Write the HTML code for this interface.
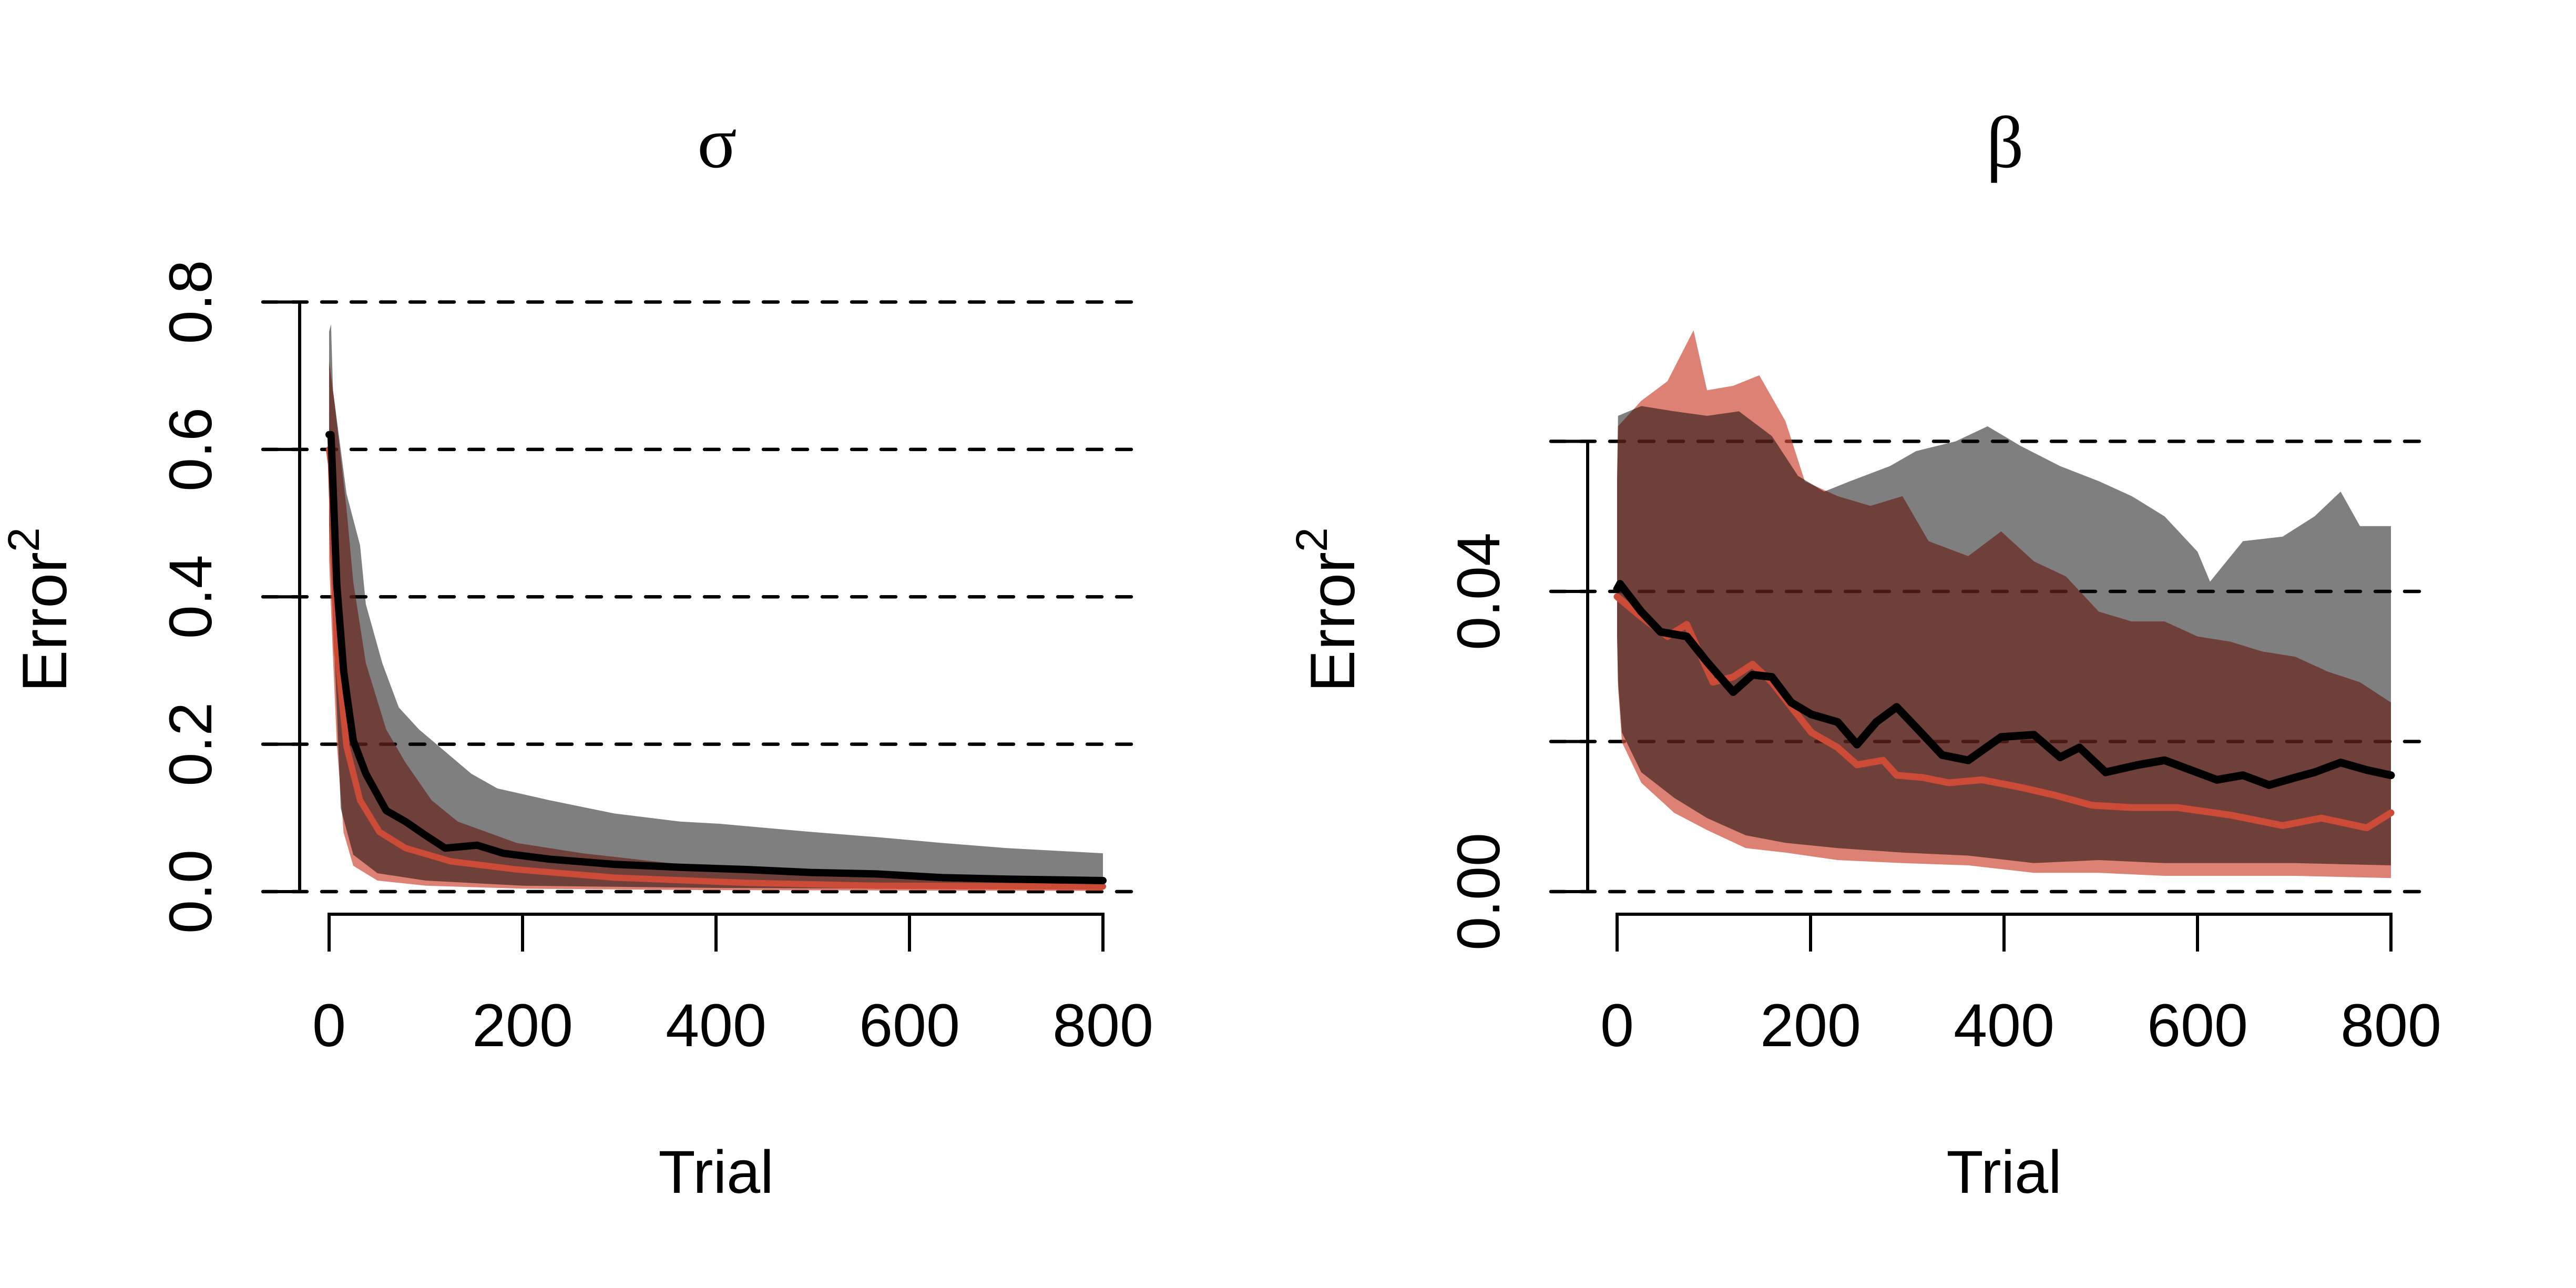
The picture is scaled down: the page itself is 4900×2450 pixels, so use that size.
<!DOCTYPE html>
<html><head><meta charset="utf-8"><title>Error² over trials</title>
<style>html,body{margin:0;padding:0;background:#fff}svg{display:block}</style></head>
<body>
<svg id="chart" width="4900" height="2450" viewBox="0 0 4900 2450" xmlns="http://www.w3.org/2000/svg" font-family="'Liberation Sans', sans-serif">
<rect width="4900" height="2450" fill="#fff"/>
</svg>
<script>
// ---- Panel 1 (sigma) data ----
const sigBlackT = [0,2,8,15,18,25,38,59,79,99,120,153,180,228,295,363,430,498,566,634,701,800];
const sigBlackV = [0.62,0.62,0.416,0.30,0.27,0.205,0.16,0.11,0.095,0.077,0.059,0.063,0.052,0.044,0.037,0.033,0.030,0.026,0.024,0.019,0.017,0.015];
const sigRedT = [0,2,8,18,32,52,79,126,194,295,430,566,800];
const sigRedV = [0.60,0.58,0.33,0.197,0.124,0.081,0.059,0.041,0.030,0.019,0.012,0.008,0.007];
const sigGrayUpT = [0,2,4,18,32,38,55,72,93,120,147,174,228,295,363,404,498,566,634,701,800];
const sigGrayUpV = [0.76,0.77,0.68,0.54,0.47,0.39,0.31,0.25,0.22,0.19,0.16,0.14,0.124,0.106,0.095,0.092,0.081,0.074,0.066,0.059,0.052];
const sigSalUpT = [0,5,18,25,38,59,79,106,133,194,262,363,498,634,800];
const sigSalUpV = [0.72,0.67,0.52,0.42,0.31,0.22,0.175,0.124,0.095,0.066,0.052,0.037,0.026,0.019,0.015];
const sigSalLoT = [0,3,8,15,25,50,100,200,400,800];
const sigSalLoV = [0.45,0.35,0.20,0.08,0.035,0.015,0.008,0.004,0.002,0.001];
const sigGrayLoT = [0,3,8,12,25,50,100,200,400,800];
const sigGrayLoV = [0.50,0.40,0.25,0.113,0.05,0.025,0.015,0.008,0.005,0.003];
const sigTicks = [0,0.2,0.4,0.6,0.8];
const sigTickLabels = ["0.0","0.2","0.4","0.6","0.8"];

// ---- Panel 2 (beta) data ----
const betBlackT = [0,3,25,45,72,93,120,140,160,180,201,228,248,268,289,309,336,363,397,431,458,478,505,539,566,593,620,647,674,701,721,748,775,800];
const betBlackV = [0.0403,0.041,0.0373,0.0346,0.034,0.0306,0.0266,0.0289,0.0286,0.0252,0.0236,0.0226,0.0196,0.0226,0.0246,0.0219,0.0182,0.0175,0.0206,0.0209,0.0179,0.0192,0.0159,0.0169,0.0175,0.0162,0.0149,0.0155,0.0142,0.0152,0.0159,0.0172,0.0162,0.0155];
const betRedT = [0,25,52,72,99,120,140,160,180,201,228,248,275,289,316,343,377,417,451,491,532,579,634,688,728,775,800];
const betRedV = [0.0393,0.0366,0.034,0.0356,0.0279,0.0286,0.0303,0.0279,0.0246,0.0212,0.0192,0.0169,0.0175,0.0155,0.0152,0.0145,0.0149,0.0139,0.0129,0.0115,0.0112,0.0112,0.0102,0.0088,0.0098,0.0085,0.0105];
const betGrayUpT = [0,1,25,59,93,126,160,187,214,241,282,309,350,383,417,458,498,532,566,600,613,647,688,721,748,768,800];
const betGrayUpV = [0.055,0.0634,0.0647,0.064,0.0634,0.064,0.0607,0.0554,0.0533,0.0547,0.0567,0.0587,0.06,0.062,0.0594,0.0567,0.0547,0.0527,0.05,0.0453,0.0413,0.0467,0.0473,0.05,0.0533,0.0487,0.0487];
const betSalUpT = [0,1,25,52,79,93,120,147,174,194,228,262,295,322,363,397,431,464,498,532,566,600,634,667,701,735,768,800];
const betSalUpV = [0.055,0.062,0.0654,0.068,0.0748,0.0668,0.0674,0.0688,0.0627,0.0547,0.0527,0.0514,0.0527,0.0467,0.0447,0.048,0.044,0.042,0.0373,0.036,0.036,0.034,0.0333,0.032,0.0313,0.0293,0.0279,0.0252];
const betSalLoT = [0,1,5,25,59,93,133,174,228,295,363,431,498,566,634,701,800];
const betSalLoV = [0.034,0.0273,0.0199,0.0145,0.0105,0.0082,0.0058,0.0052,0.0042,0.0038,0.0035,0.0025,0.0025,0.0021,0.0021,0.0021,0.0018];
const betGrayLoT = [0,1,5,25,59,93,133,174,228,295,363,431,498,566,634,701,800];
const betGrayLoV = [0.034,0.028,0.0212,0.0159,0.0125,0.0098,0.0075,0.0065,0.0058,0.0052,0.0048,0.0038,0.0042,0.0038,0.0038,0.0038,0.0035];
const betTicks = [0,0.02,0.04,0.06];
const betTickLabels = ["0.00","","0.04",""];

const xTicks = [0,200,400,600,800];
const xTickLabels = ["0","200","400","600","800"];

const NS = "http://www.w3.org/2000/svg";
const svg = document.getElementById("chart");
function mk(tag, attrs, parent) {
  const e = document.createElementNS(NS, tag);
  for (const k in attrs) e.setAttribute(k, attrs[k]);
  (parent || svg).appendChild(e);
  return e;
}

function panel(off, name, title, yMax, yTopPix, yTicks, yLabels, bands, lines) {
  const g = mk("g", {});
  
  
  const X = t => off + 626 + t * (2098 - 626) / 800;
  const Y = v => 1696 - v * (1696 - yTopPix) / yMax;
  yTicks.forEach(v => {
    const l = mk("line", {x1: off + 500, x2: off + 2162, y1: Y(v), y2: Y(v), stroke: "#000", "stroke-width": 6.5, "stroke-dasharray": "28 28", "stroke-linecap": "round"}, g);
    
    
  });
  bands.forEach(b => {
    let d = "";
    b.upT.forEach((t, i) => d += (i ? "L" : "M") + X(t).toFixed(1) + "," + Y(b.upV[i]).toFixed(1));
    for (let i = b.loT.length - 1; i >= 0; i--) d += "L" + X(b.loT[i]).toFixed(1) + "," + Y(b.loV[i]).toFixed(1);
    d += "Z";
    const p = mk("path", {d: d, fill: b.fill}, g);
    
    
  });
  lines.forEach(ln => {
    let d = "";
    ln.t.forEach((t, i) => d += (i ? "L" : "M") + X(t).toFixed(1) + "," + Y(ln.v[i]).toFixed(1));
    const p = mk("path", {d: d, fill: "none", stroke: ln.color, "stroke-width": ln.w, "stroke-linejoin": "round", "stroke-linecap": "round"}, g);
    
    
  });
  const ya = mk("line", {x1: off + 570, x2: off + 570, y1: Y(yTicks[0]), y2: Y(yTicks[yTicks.length - 1]), stroke: "#000", "stroke-width": 6}, g);
  
  
  yTicks.forEach((v, i) => {
    const tk = mk("line", {x1: off + 500, x2: off + 570, y1: Y(v), y2: Y(v), stroke: "#000", "stroke-width": 6}, g);
    
    
    if (yLabels[i]) {
      const tx = mk("text", {x: 0, y: 0, "font-size": 115, "text-anchor": "middle", transform: "translate(" + (off + 402) + "," + Y(v) + ") rotate(-90)"}, g);
      tx.textContent = yLabels[i];
      
      
    }
  });
  const xa = mk("line", {x1: X(0), x2: X(800), y1: 1739, y2: 1739, stroke: "#000", "stroke-width": 6}, g);
  
  
  xTicks.forEach((t, i) => {
    const tk = mk("line", {x1: X(t), x2: X(t), y1: 1736, y2: 1810, stroke: "#000", "stroke-width": 6}, g);
    
    
    const tx = mk("text", {x: X(t), y: 1990, "font-size": 115, "text-anchor": "middle"}, g);
    tx.textContent = xTickLabels[i];
    
    
  });
  const xt = mk("text", {x: off + 1362, y: 2269, "font-size": 115, "text-anchor": "middle"}, g);
  xt.textContent = "Trial";
  
  
  const yt = mk("text", {x: 0, y: 0, "font-size": 120, "text-anchor": "middle", transform: "translate(" + (off + 126) + ",1160) rotate(-90)"}, g);
  yt.innerHTML = 'Error<tspan font-size="84" dy="-52">2</tspan>';
  
  
  const tt = mk("text", {x: off + 1364, y: 318, "font-size": 140, "text-anchor": "middle", "font-family": "'Liberation Serif', 'DejaVu Serif', serif"}, g);
  tt.textContent = title;
  
  
}

panel(0, "sigma", "σ", 0.8, 574.5, sigTicks, sigTickLabels,
  [{name: "red-band", fill: "rgba(205,75,55,0.7)", upT: sigSalUpT, upV: sigSalUpV, loT: sigSalLoT, loV: sigSalLoV},
   {name: "black-band", fill: "rgba(0,0,0,0.5)", upT: sigGrayUpT, upV: sigGrayUpV, loT: sigGrayLoT, loV: sigGrayLoV}],
  [{name: "red-line", color: "#CC4B37", w: 12, t: sigRedT, v: sigRedV},
   {name: "black-line", color: "#000", w: 14, t: sigBlackT, v: sigBlackV}]);

panel(2450, "beta", "β", 0.06, 839.5, betTicks, betTickLabels,
  [{name: "red-band", fill: "rgba(205,75,55,0.7)", upT: betSalUpT, upV: betSalUpV, loT: betSalLoT, loV: betSalLoV},
   {name: "black-band", fill: "rgba(0,0,0,0.5)", upT: betGrayUpT, upV: betGrayUpV, loT: betGrayLoT, loV: betGrayLoV}],
  [{name: "red-line", color: "#CC4B37", w: 13, t: betRedT, v: betRedV},
   {name: "black-line", color: "#000", w: 15, t: betBlackT, v: betBlackV}]);
</script>
</body></html>
